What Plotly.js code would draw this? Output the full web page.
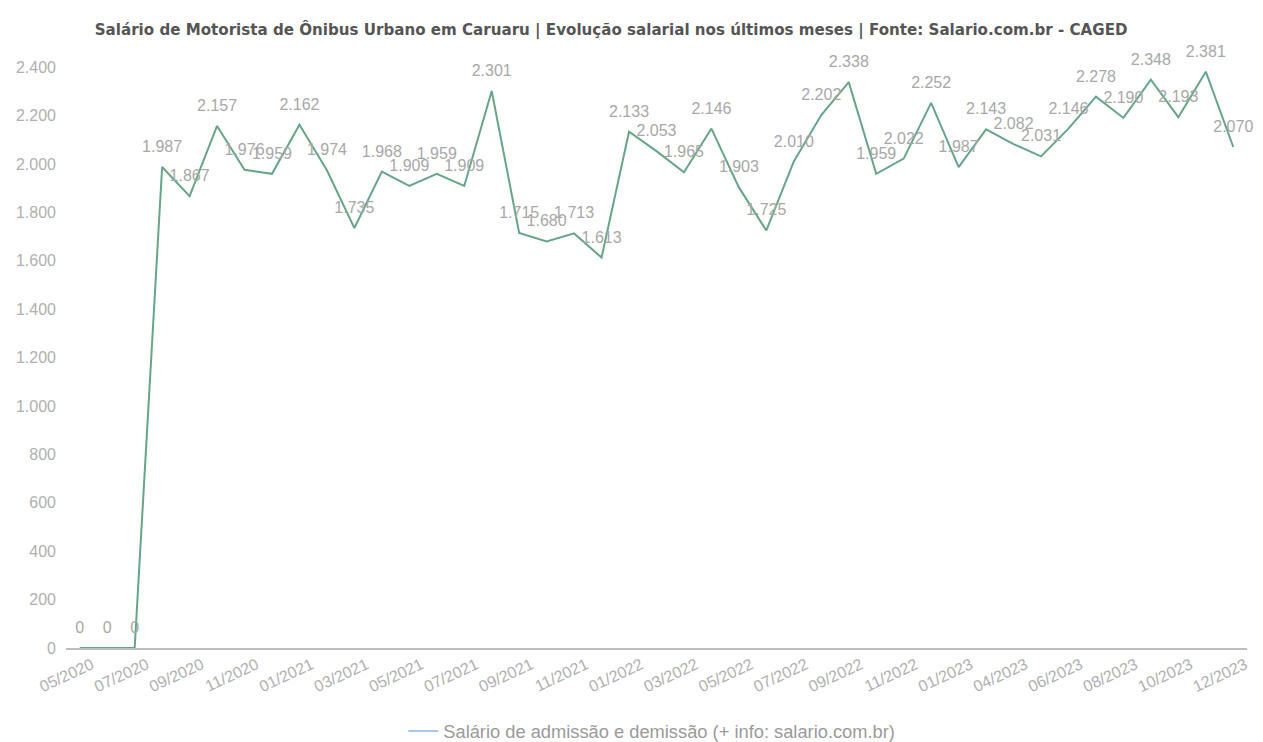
<!DOCTYPE html>
<html>
<head>
<meta charset="utf-8">
<script src="https://cdn.plot.ly/plotly-3.0.1.min.js"></script>
<style>html,body{margin:0;padding:0;background:#fff;}#chart{width:1263px;height:742px;}</style>
</head>
<body>
<div id="chart"></div>
<script>
const months = ["05/2020","06/2020","07/2020","08/2020","09/2020","10/2020","11/2020","12/2020",
  "01/2021","02/2021","03/2021","04/2021","05/2021","06/2021","07/2021","08/2021","09/2021","10/2021","11/2021","12/2021",
  "01/2022","02/2022","03/2022","04/2022","05/2022","06/2022","07/2022","08/2022","09/2022","10/2022","11/2022","12/2022",
  "01/2023","02/2023","04/2023","05/2023","06/2023","07/2023","08/2023","09/2023","10/2023","11/2023","12/2023"];
const salario = [0,0,0,1987,1867,2157,1976,1959,
  2162,1974,1735,1968,1909,1959,1909,2301,1715,1680,1713,1613,
  2133,2053,1965,2146,1903,1725,2010,2202,2338,1959,2022,2252,
  1987,2143,2082,2031,2146,2278,2190,2348,2193,2381,2070];
const seriesName = "Salário de admissão e demissão (+ info: salario.com.br)";
const titleText = "Salário de Motorista de Ônibus Urbano em Caruaru | Evolução salarial nos últimos meses | Fonte: Salario.com.br - CAGED";

const labels = salario.map(v => v.toLocaleString('de-DE'));

const traces = [
  {
    x: months, y: salario, type: 'scatter', mode: 'lines+markers+text',
    text: labels, textposition: 'top center',
    textfont: {family: 'Liberation Sans, Arial, sans-serif', size: 16, color: '#a8a8a8'},
    line: {color: '#66a687', width: 2},
    marker: {size: 16, color: 'rgba(0,0,0,0)'},
    showlegend: false, hoverinfo: 'x+y', cliponaxis: false
  },
  {
    x: [null], y: [null], type: 'scatter', mode: 'lines',
    name: seriesName, line: {color: '#a6c8ea', width: 2}, showlegend: true
  }
];

const layout = {
  width: 1263, height: 742,
  margin: {l: 66, r: 16, t: 55, b: 94, autoexpand: false},
  paper_bgcolor: '#fff', plot_bgcolor: '#fff',
  separators: ',.',
  title: {
    text: titleText, x: 0.075, xref: 'container', xanchor: 'left', y: 0.96, yanchor: 'middle',
    font: {family: 'DejaVu Sans, sans-serif', size: 15.1, color: '#555', weight: 'bold'}
  },
  xaxis: {
    type: 'category', range: [-0.5, 42.5], automargin: false,
    tickmode: 'linear', tick0: 0, dtick: 2,
    tickangle: -25, ticklabelshift: 12, showgrid: false, zeroline: false,
    showline: true, linecolor: '#bdbdbd', linewidth: 1.5, ticks: '',
    tickfont: {family: 'Liberation Sans, Arial, sans-serif', size: 16, color: '#b0b0b0'}
  },
  yaxis: {
    range: [0, 2450], tickmode: 'linear', tick0: 0, dtick: 200, automargin: false,
    tickformat: ',d', showgrid: false, zeroline: false, showline: false,
    ticks: '', ticklabelstandoff: 9,
    tickfont: {family: 'Liberation Sans, Arial, sans-serif', size: 16, color: '#b0b0b0'}
  },
  showlegend: true,
  legend: {
    orientation: 'h', x: 0.496, xanchor: 'center', y: -0.14, yanchor: 'middle',
    font: {family: 'Liberation Sans, Arial, sans-serif', size: 18.3, color: '#9a9a9a'}
  }
};

Plotly.newPlot('chart', traces, layout, {displayModeBar: false, staticPlot: true});
</script>
</body>
</html>
